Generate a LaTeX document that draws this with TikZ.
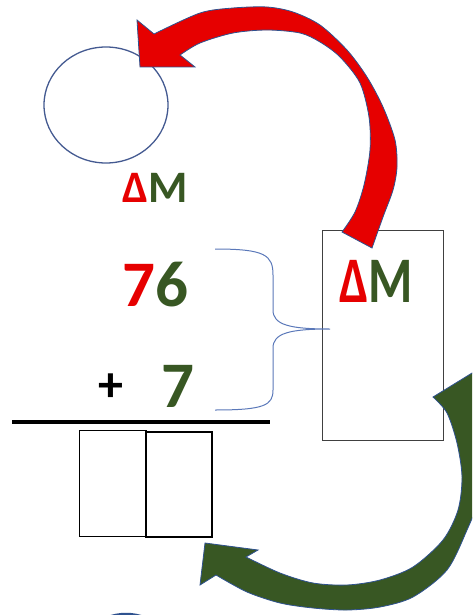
\documentclass[tikz,border=0pt]{standalone}
\usepackage{fontspec}
\usepackage{graphicx}
\setmainfont{Carlito}
\usetikzlibrary{shapes.geometric}
\definecolor{dmred}{RGB}{230,0,0}
\definecolor{dmgreen}{RGB}{56,87,35}
\definecolor{ringblue}{RGB}{68,90,145}
\definecolor{braceblue}{RGB}{90,120,185}
\definecolor{edgeblue}{RGB}{47,82,143}
\begin{document}
\begin{tikzpicture}[x=1pt, y=-1pt, line width=1pt,
  big/.style={font=\fontsize{65}{65}\selectfont\bfseries, inner sep=0pt},
  mid/.style={font=\fontsize{45}{45}\selectfont\bfseries, inner sep=0pt},
  cell/.style={draw, inner sep=0pt}]
  \useasboundingbox (0,0) rectangle (472,615);
  \clip (0,0) rectangle (472,615);

  % circles
  \node[draw=ringblue, line width=1.3pt, ellipse, minimum width=124pt, minimum height=116pt] (ring) at (106,105) {};
  \draw[edgeblue, line width=2.5pt] (126,662) ellipse (50 and 48);

  % carry box
  \node[cell, draw=black!75, minimum width=121pt, minimum height=210pt] (carry) at (382.5,335) {};
  \node[big] (dmbox) at (376.5,281) {\scalebox{0.78}[1]{\textcolor{dmred}{Δ}\textcolor{dmgreen}{M}}};
  \node[mid] (dmtop) at (155.5,187.5) {\textcolor{dmred}{Δ}\textcolor{dmgreen}{M}};

  % the sum
  \node[big] (top) at (155,285) {\textcolor{dmred}{7}\textcolor{dmgreen}{6}};
  \node[font=\fontsize{50}{50}\selectfont\bfseries, inner sep=0pt] (plus) at (111,387.5) {+};
  \node[big, text=dmgreen] (low) at (177.5,386) {7};
  \draw[line width=4pt] (12,422) -- (270,422);
  \node[cell, minimum width=67pt, minimum height=106pt] (ans1) at (112.5,483) {};
  \node[cell, line width=2pt, minimum width=66pt, minimum height=105pt] (ans2) at (179,484.5) {};

  % brace
  \draw[braceblue] (215,249) .. controls (265,249) and (273,255) .. (273,275) -- (273,310)
    .. controls (273,325) and (290,329) .. (330,329)
    .. controls (290,329) and (273,333) .. (273,348) -- (273,390)
    .. controls (273,405) and (265,410) .. (215,410);

  % red arrow
  \filldraw[fill=dmred, draw=edgeblue, line width=0.8pt]
    (140,67) -- (137,20) -- (154,34)
    -- plot[smooth] coordinates {(154,34) (200,13) (233,8) (267,7) (293,12) (320,25) (347,50) (367,77) (383,107) (395,140) (397,167) (393,190) (383,217) (372,248)}
    -- (342,232)
    -- plot[smooth] coordinates {(342,232) (355,212) (364,185) (370,150) (369,117) (360,83) (340,57) (320,42) (300,33) (267,30) (233,33) (200,43) (180,55)}
    -- (195,67) -- cycle;

  % green arrow
  \filldraw[fill=dmgreen, draw=edgeblue, line width=0.8pt]
    (205,543) -- (258,550) -- (246,557)
    -- plot[smooth] coordinates {(246,557) (280,573) (313,583) (347,585) (380,580) (413,567) (443,540) (458,510) (462,477) (457,443) (447,413) (433,397)}
    -- (490,362)
    -- plot[smooth] coordinates {(490,362) (488,440) (478,500) (467,530) (447,570) (413,597) (380,607) (347,610) (313,608) (280,603) (247,592) (216,575)}
    -- (200,585) -- cycle;
\end{tikzpicture}
\end{document}
